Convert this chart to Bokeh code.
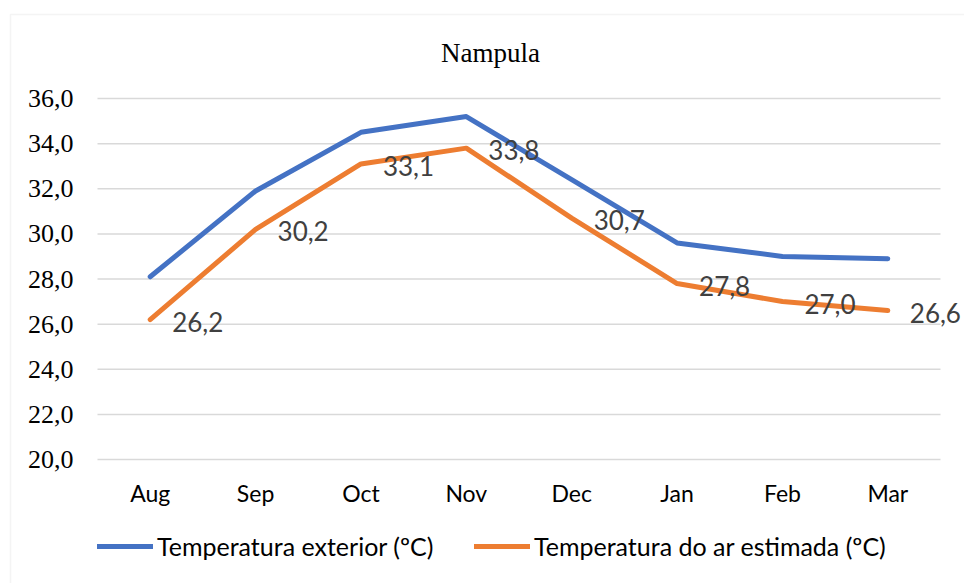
from bokeh.plotting import figure
from bokeh.models import (ColumnDataSource, LabelSet, Label, BoxAnnotation, Legend, LegendItem,
                          FixedTicker, Range1d, LinearAxis)
from bokeh.core.properties import value
from bokeh.embed import file_html
from bokeh.resources import INLINE

months = ["Aug", "Sep", "Oct", "Nov", "Dec", "Jan", "Feb", "Mar"]
temp_exterior = [28.1, 31.9, 34.5, 35.2, 32.4, 29.6, 29.0, 28.9]
temp_ar_estimada = [26.2, 30.2, 33.1, 33.8, 30.7, 27.8, 27.0, 26.6]
y_ticks = [20, 22, 24, 26, 28, 30, 32, 34, 36]
title_text = "Nampula"
series_names = ["Temperatura exterior (ºC)", "Temperatura do ar estimada (ºC)"]

BLUE = "#4472C4"
ORANGE = "#ED7D31"
GRID = "#d9d9d9"

W, H = 964, 583
# plot-area placement in canvas pixels
PL, PR, PT, PB = 97, 940, 98, 459
n = len(months)
ymin, ymax = y_ticks[0], y_ticks[-1]
xpx = (PR - PL) / n
ypx = (PB - PT) / (ymax - ymin)

x_start = -PL / xpx
x_end = n + (W - PR) / xpx
y_end = ymax + PT / ypx
y_start = ymin - (H - PB) / ypx

xc = [i + 0.5 for i in range(n)]  # category centres
src = ColumnDataSource(dict(
    x=xc, ext=temp_exterior, est=temp_ar_estimada,
    lbl=[f"{v:.1f}".replace(".", ",") for v in temp_ar_estimada],
))

p = figure(width=W, height=H, x_range=Range1d(x_start, x_end), y_range=Range1d(y_start, y_end),
           x_axis_type=None, y_axis_type=None,
           output_backend="svg", toolbar_location=None,
           min_border_left=0, min_border_right=0, min_border_top=0, min_border_bottom=0)
p.outline_line_color = None
p.background_fill_color = "white"
p.border_fill_color = "white"
p.xgrid.visible = False
p.ygrid.visible = False

# outer chart border
p.add_layout(BoxAnnotation(left=x_start + 10 / xpx, right=x_end + 1, top=y_end - 14 / ypx,
                           bottom=y_start - 1, fill_alpha=0, line_color=GRID, line_width=1.5))

# horizontal gridlines across the plot area
p.segment(x0=[0] * len(y_ticks), x1=[n] * len(y_ticks), y0=y_ticks, y1=y_ticks,
          line_color=GRID, line_width=1.5)

r1 = p.line("x", "ext", source=src, line_color=BLUE, line_width=5, line_cap="round", line_join="round")
r2 = p.line("x", "est", source=src, line_color=ORANGE, line_width=5, line_cap="round", line_join="round")

p.add_layout(LabelSet(x="x", y="est", text="lbl", source=src, x_offset=22, y_offset=-2,
                      text_baseline="middle", text_align="left", text_color="#404040",
                      text_font=value("Lato"), text_font_size="26px"))

# y axis (fixed at plot-area left edge); its labels are drawn in serif beside it
yax = LinearAxis(fixed_location=0, ticker=FixedTicker(ticks=y_ticks),
                 major_label_text_alpha=0, major_label_text_font_size="1px",
                 axis_line_color=None, major_tick_line_color=None, minor_tick_line_color=None)
p.add_layout(yax, "left")
for t in y_ticks:
    p.add_layout(Label(x=0, y=t, x_offset=-24, text=f"{t:.1f}".replace(".", ","),
                       text_align="right", text_baseline="middle", text_color="black",
                       text_font="Liberation Serif", text_font_size="26px"))

# x axis (fixed at y = ymin)
xax = LinearAxis(fixed_location=ymin, ticker=FixedTicker(ticks=xc),
                 major_label_overrides={c: m for c, m in zip(xc, months)},
                 major_label_text_font="Lato", major_label_text_font_size="23px",
                 major_label_text_color="black", major_label_standoff=13,
                 axis_line_color=None, major_tick_line_color=None, minor_tick_line_color=None)
p.add_layout(xax, "below")

# title
p.add_layout(Label(x=490, y=H - 52, x_units="screen", y_units="screen", text=title_text,
                   text_align="center", text_baseline="middle", text_font="Liberation Serif",
                   text_font_size="27px", text_color="black"))

# legends
for r, name, x0 in [(r1, series_names[0], 97), (r2, series_names[1], 474)]:
    lg = Legend(items=[LegendItem(label=name, renderers=[r])], location=(x0, H - 561),
                orientation="horizontal", glyph_width=56, glyph_height=22, label_standoff=4,
                label_height=22, padding=0, margin=0, border_line_color=None,
                background_fill_alpha=0, label_text_font="Lato", label_text_font_size="25px",
                label_text_color="black")
    p.add_layout(lg, "center")

open("out.html", "w").write(file_html(p, INLINE))
